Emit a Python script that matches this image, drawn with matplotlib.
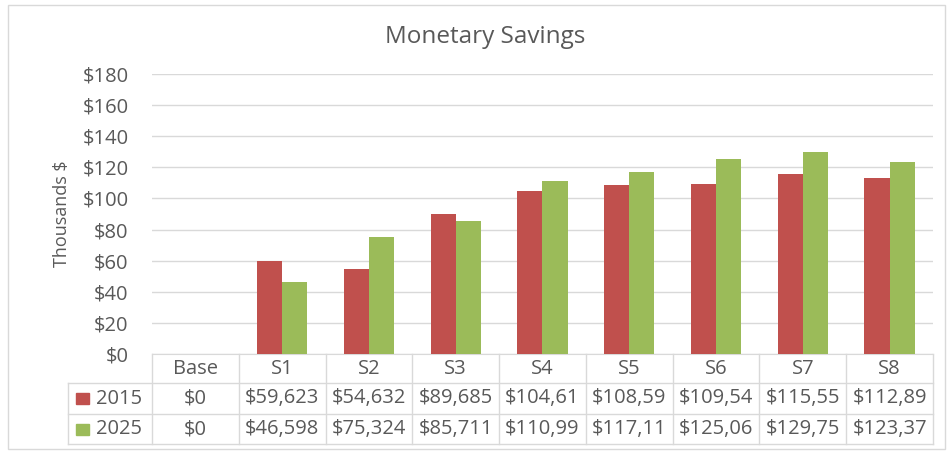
import matplotlib.pyplot as plt
from matplotlib.transforms import blended_transform_factory
from matplotlib.patches import Rectangle

categories = ["Base", "S1", "S2", "S3", "S4", "S5", "S6", "S7", "S8"]
series_names = ["2015", "2025"]
# thousands of dollars
values_2015 = [0, 59.623, 54.632, 89.685, 104.61, 108.59, 109.54, 115.55, 112.89]
values_2025 = [0, 46.598, 75.324, 85.711, 110.99, 117.11, 125.06, 129.75, 123.37]
labels_2015 = ["$0", "$59,623", "$54,632", "$89,685", "$104,61", "$108,59", "$109,54", "$115,55", "$112,89"]
labels_2025 = ["$0", "$46,598", "$75,324", "$85,711", "$110,99", "$117,11", "$125,06", "$129,75", "$123,37"]
y_ticks = [0, 20, 40, 60, 80, 100, 120, 140, 160, 180]

colors = ["#C0504D", "#9BBB59"]
text_color = "#595959"
grid_color = "#D9D9D9"
font = "Open Sans"
fs = 14.5

W, H = 951, 453
fig = plt.figure(figsize=(W / 100, H / 100), dpi=100)

# chart border
fig.patches.append(Rectangle((8 / W, 1 - 449 / H), (945 - 8) / W, (449 - 5) / H,
                             transform=fig.transFigure, fill=False,
                             edgecolor="#D9D9D9", linewidth=1))

# axes placed in pixel positions
left, right, top, bottom = 152, 933, 74, 354
ax = fig.add_axes([left / W, 1 - bottom / H, (right - left) / W, (bottom - top) / H])

n = len(categories)
x = list(range(n))
bw = 0.29
ax.bar([i - bw / 2 for i in x], values_2015, width=bw, color=colors[0], zorder=3)
ax.bar([i + bw / 2 for i in x], values_2025, width=bw, color=colors[1], zorder=3)

ax.set_xlim(-0.5, n - 0.5)
ax.set_ylim(0, 180)
ax.set_yticks(y_ticks)
ax.set_yticklabels(["${}".format(v) for v in y_ticks], fontsize=fs, color=text_color,
                   family=font)
ax.tick_params(axis="y", length=0, pad=17)
ax.set_xticks([])
ax.grid(axis="y", color=grid_color, linewidth=1, zorder=0)
for s in ["top", "right", "left"]:
    ax.spines[s].set_visible(False)
ax.spines["bottom"].set_color(grid_color)

ax.set_ylabel("Thousands $", fontsize=13, color=text_color, family=font, labelpad=8)
fig.text(485 / W, 1 - 37 / H, "Monetary Savings", ha="center", va="center",
         fontsize=17.5, color=text_color, family=font)

# data table below the axis
trans = blended_transform_factory(ax.transData, ax.transAxes)
ax_h = bottom - top


def ay(px):
    return (bottom - px) / ax_h


row_lines = [354, 383, 414, 444]
leg_x = -0.5 - (left - 68) / ((right - left) / n)
line_kw = dict(color=grid_color, linewidth=1, transform=trans, clip_on=False)

for i in range(n + 1):
    ax.plot([i - 0.5, i - 0.5], [ay(row_lines[0]), ay(row_lines[-1])], **line_kw)
ax.plot([leg_x, leg_x], [ay(row_lines[1]), ay(row_lines[-1])], **line_kw)
for yl in row_lines[1:]:
    ax.plot([leg_x, n - 0.5], [ay(yl), ay(yl)], **line_kw)

row_mid = [(row_lines[k] + row_lines[k + 1]) / 2 for k in range(3)]
for i, cat in enumerate(categories):
    ax.text(i, ay(row_mid[0]), cat, transform=trans, ha="center", va="center",
            fontsize=fs, color=text_color, family=font)
    ax.text(i, ay(row_mid[1]), labels_2015[i], transform=trans, ha="center", va="center",
            fontsize=fs, color=text_color, family=font)
    ax.text(i, ay(row_mid[2]), labels_2025[i], transform=trans, ha="center", va="center",
            fontsize=fs, color=text_color, family=font)

# legend keys inside the table
for k, name in enumerate(series_names):
    ym = row_mid[k + 1]
    fig.patches.append(Rectangle((76 / W, 1 - (ym + 5.5) / H), 13 / W, 11 / H,
                                 transform=fig.transFigure, color=colors[k]))
    fig.text(96 / W, 1 - ym / H, name, ha="left", va="center",
             fontsize=fs, color=text_color, family=font)

fig.savefig("out.png", dpi=100)
